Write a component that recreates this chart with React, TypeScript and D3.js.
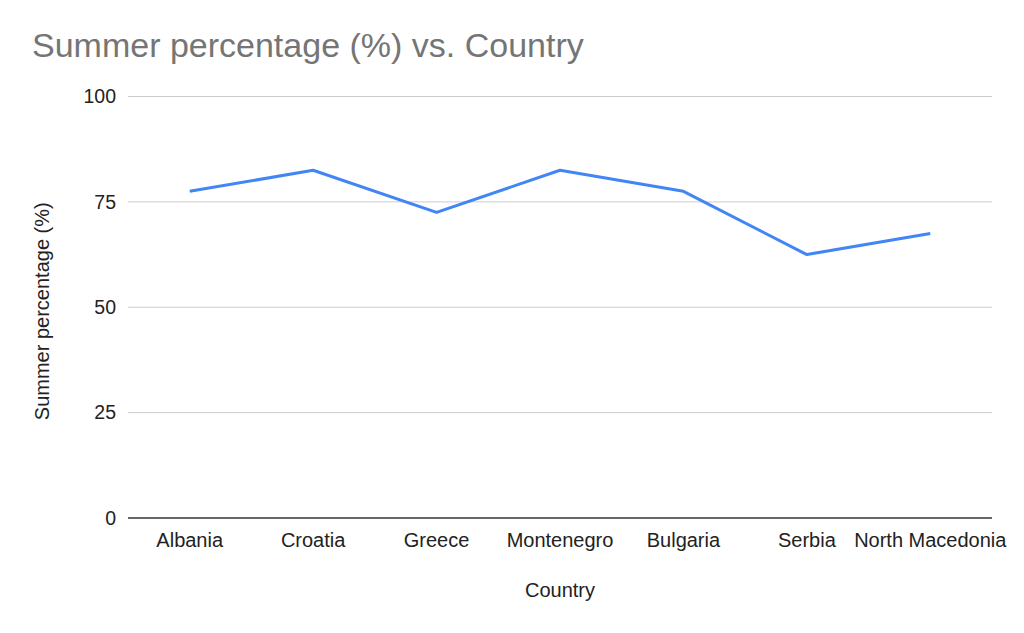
import React from "react";
import * as d3 from "d3";

const categories = ["Albania", "Croatia", "Greece", "Montenegro", "Bulgaria", "Serbia", "North Macedonia"];
const summerPct = [77.5, 82.5, 72.5, 82.5, 77.5, 62.5, 67.5];
const yTicks = [0, 25, 50, 75, 100];

const W = 1024, H = 633;
const M = { left: 128, right: 32, top: 96.5, bottom: 115 };

export default function App() {
  const x = d3.scaleBand().domain(categories).range([M.left, W - M.right]);
  const y = d3.scaleLinear().domain([0, 100]).range([H - M.bottom, M.top]);
  const line = d3.line<number>()
    .x((_, i) => (x(categories[i]) as number) + x.bandwidth() / 2)
    .y(d => y(d));
  const font = "Arial, 'Liberation Sans', sans-serif";
  return (
    <svg width={W} height={H} style={{ position: "absolute", left: 0, top: 0, background: "#fff" }} fontFamily={font}>
      <rect width={W} height={H} fill="#fff" />
      <text x={32} y={57} fontSize={34} fill="#757575">Summer percentage (%) vs. Country</text>
      {yTicks.map(t => (
        <g key={t}>
          {t !== 0 && <line x1={M.left} x2={W - M.right} y1={y(t)} y2={y(t)} stroke="#cccccc" strokeWidth={1} />}
          <text x={116} y={y(t)} dy="0.35em" textAnchor="end" fontSize={19.5} fill="#222">{t}</text>
        </g>
      ))}
      <line x1={M.left} x2={W - M.right} y1={y(0)} y2={y(0)} stroke="#333" strokeWidth={1.5} />
      {categories.map(c => (
        <text key={c} x={(x(c) as number) + x.bandwidth() / 2} y={540} dy="0.35em" textAnchor="middle" fontSize={20} fill="#222">{c}</text>
      ))}
      <path d={line(summerPct) || ""} fill="none" stroke="#4285f4" strokeWidth={3} strokeLinejoin="round" />
      <text x={560} y={590} dy="0.35em" textAnchor="middle" fontSize={20} fill="#222">Country</text>
      <text transform={`translate(42,${(y(0) + y(100)) / 2 + 4}) rotate(-90)`} dy="0.35em" textAnchor="middle" fontSize={20} fill="#222">Summer percentage (%)</text>
    </svg>
  );
}
